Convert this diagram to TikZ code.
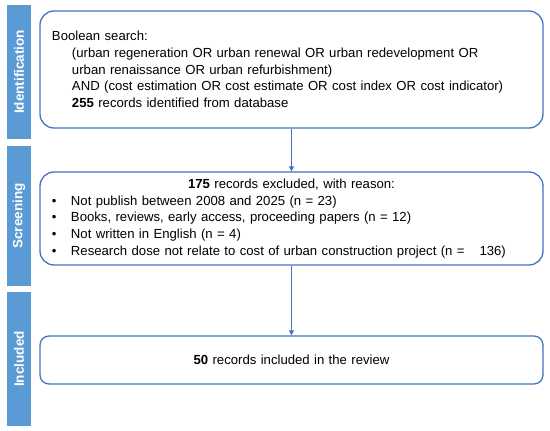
\documentclass[tikz,border=0pt]{standalone}
\usepackage{fontspec}
\setmainfont{Liberation Sans}
\usetikzlibrary{arrows.meta,positioning}
\definecolor{barblue}{RGB}{91,155,213}
\definecolor{boxblue}{RGB}{68,114,196}
\begin{document}
\begin{tikzpicture}[x=1pt,y=-1pt,
  stagebar/.style={fill=barblue,draw=none,minimum width=24pt,inner sep=0pt},
  stagelabel/.style={rotate=90,text=white,font=\fontsize{13.5}{14}\selectfont\bfseries},
  stagebox/.style={draw=boxblue,line width=1.3pt,minimum width=503pt,inner xsep=12pt,text width=479pt,align=left,font=\fontsize{13.15}{16.6}\selectfont},
  flowarrow/.style={draw=boxblue,line width=1.2pt,-{Triangle[length=5pt,width=5pt]}}]
\useasboundingbox (0,0) rectangle (550,431);
% stage bars on the left
\foreach \ya/\yb/\nm/\lbl in {5/139/idbar/Identification,146/286/scbar/Screening,292/426/inbar/Included}{
  \pgfmathsetmacro{\ym}{(\ya+\yb)/2}
  \pgfmathsetmacro{\hh}{\yb-\ya}
  \node[stagebar,minimum height=\hh pt] (\nm) at (19,\ym) {};
  \node[stagelabel] at (\nm.center) {\lbl};}
% boxes
\node[stagebox,rounded corners=14pt,minimum height=117pt] (ident) at (291.5,69.5) {%
  Boolean search:\\
  \hspace*{20pt}\mbox{(urban regeneration OR urban renewal OR urban redevelopment OR}\\
  \hspace*{20pt}\mbox{urban renaissance OR urban refurbishment)}\\
  \hspace*{20pt}\mbox{AND (cost estimation OR cost estimate OR cost index OR cost indicator)}\\
  \hspace*{20pt}\textbf{255} records identified from database};
\node[stagebox,rounded corners=14pt,minimum height=93pt] (screen) at (291.5,218.5) {%
  \makebox[479pt]{\textbf{175} records excluded, with reason:}\\
  \makebox[19pt][l]{\textbullet}Not publish between 2008 and 2025 (n = 23)\\
  \makebox[19pt][l]{\textbullet}Books, reviews, early access, proceeding papers (n = 12)\\
  \makebox[19pt][l]{\textbullet}Not written in English (n = 4)\\
  \makebox[19pt][l]{\textbullet}\mbox{Research dose not relate to cost of urban construction project (n =\hspace{15pt}136)}};
\node[stagebox,rounded corners=9pt,minimum height=48pt,align=center] (incl) at (291.5,360) {\textbf{50} records included in the review};
% arrows
\draw[flowarrow] (ident.south) -- (screen.north);
\draw[flowarrow] (screen.south) -- (incl.north);
\end{tikzpicture}
\end{document}
